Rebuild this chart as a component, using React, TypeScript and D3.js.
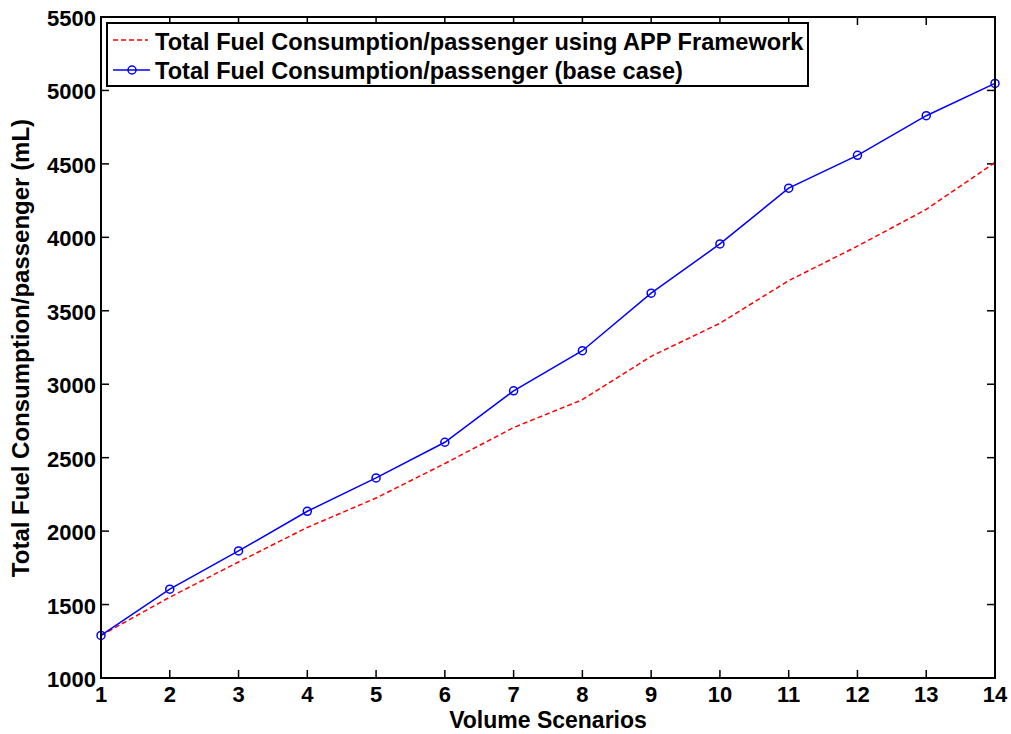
import React from "react";
import * as d3 from "d3";

const scenarios = [1, 2, 3, 4, 5, 6, 7, 8, 9, 10, 11, 12, 13, 14];
const appFramework = [1290, 1550, 1790, 2025, 2225, 2460, 2705, 2895, 3190, 3415, 3705, 3940, 4190, 4510];
const baseCase = [1290, 1605, 1865, 2135, 2362, 2605, 2955, 3228, 3620, 3955, 4335, 4558, 4828, 5048];
const yTicks = [1000, 1500, 2000, 2500, 3000, 3500, 4000, 4500, 5000, 5500];
const seriesNames = [
  "Total Fuel Consumption/passenger using APP Framework",
  "Total Fuel Consumption/passenger (base case)",
];

const W = 1011, H = 734;
const L = 101, R = 995, T = 17, B = 678;
const font = "'Liberation Sans', Arial, sans-serif";

export default function App() {
  const x = d3.scaleLinear().domain([1, 14]).range([L, R]);
  const y = d3.scaleLinear().domain([1000, 5500]).range([B, T]);
  const line = d3.line<number>().x((_, i) => x(scenarios[i])).y((d) => y(d));
  const tl = 8;
  return (
    <svg width={W} height={H} style={{ position: "absolute", left: 0, top: 0, background: "#fff" }} fontFamily={font}>
      <rect x={0} y={0} width={W} height={H} fill="#fff" />
      {/* ticks */}
      {scenarios.map((s) => (
        <g key={"xt" + s}>
          <line x1={x(s)} x2={x(s)} y1={B} y2={B - tl} stroke="#000" strokeWidth={1.5} />
          <line x1={x(s)} x2={x(s)} y1={T} y2={T + tl} stroke="#000" strokeWidth={1.5} />
          <text x={x(s)} y={B + 24} textAnchor="middle" fontSize={22} fontWeight="bold">{s}</text>
        </g>
      ))}
      {yTicks.map((v) => (
        <g key={"yt" + v}>
          <line x1={L} x2={L + tl} y1={y(v)} y2={y(v)} stroke="#000" strokeWidth={1.5} />
          <line x1={R} x2={R - tl} y1={y(v)} y2={y(v)} stroke="#000" strokeWidth={1.5} />
          <text x={L - 5} y={y(v) + 9} textAnchor="end" fontSize={22} fontWeight="bold">{v}</text>
        </g>
      ))}
      {/* series */}
      <path d={line(appFramework) || ""} fill="none" stroke="#ff0000" strokeWidth={1.5} strokeDasharray="5,3" />
      <path d={line(baseCase) || ""} fill="none" stroke="#0000ff" strokeWidth={1.5} />
      {baseCase.map((v, i) => (
        <circle key={"c" + i} cx={x(scenarios[i])} cy={y(v)} r={4} fill="none" stroke="#0000ff" strokeWidth={1.5} />
      ))}
      <rect x={L} y={T} width={R - L} height={B - T} fill="none" stroke="#000" strokeWidth={2} />
      {/* legend */}
      <rect x={107} y={23} width={701} height={63} fill="#fff" stroke="#000" strokeWidth={2} />
      <line x1={113} x2={148} y1={40} y2={40} stroke="#ff0000" strokeWidth={1.5} strokeDasharray="5,3" />
      <text x={155} y={50} fontSize={23.6} fontWeight="bold">{seriesNames[0]}</text>
      <line x1={113} x2={150} y1={70} y2={70} stroke="#0000ff" strokeWidth={1.5} />
      <circle cx={132} cy={70} r={4} fill="none" stroke="#0000ff" strokeWidth={1.5} />
      <text x={155} y={79} fontSize={23.6} fontWeight="bold">{seriesNames[1]}</text>
      {/* axis labels */}
      <text x={(L + R) / 2} y={728} textAnchor="middle" fontSize={23} fontWeight="bold">Volume Scenarios</text>
      <text transform={`translate(29, 348) rotate(-90)`} textAnchor="middle" fontSize={24} fontWeight="bold">
        Total Fuel Consumption/passenger (mL)
      </text>
    </svg>
  );
}
